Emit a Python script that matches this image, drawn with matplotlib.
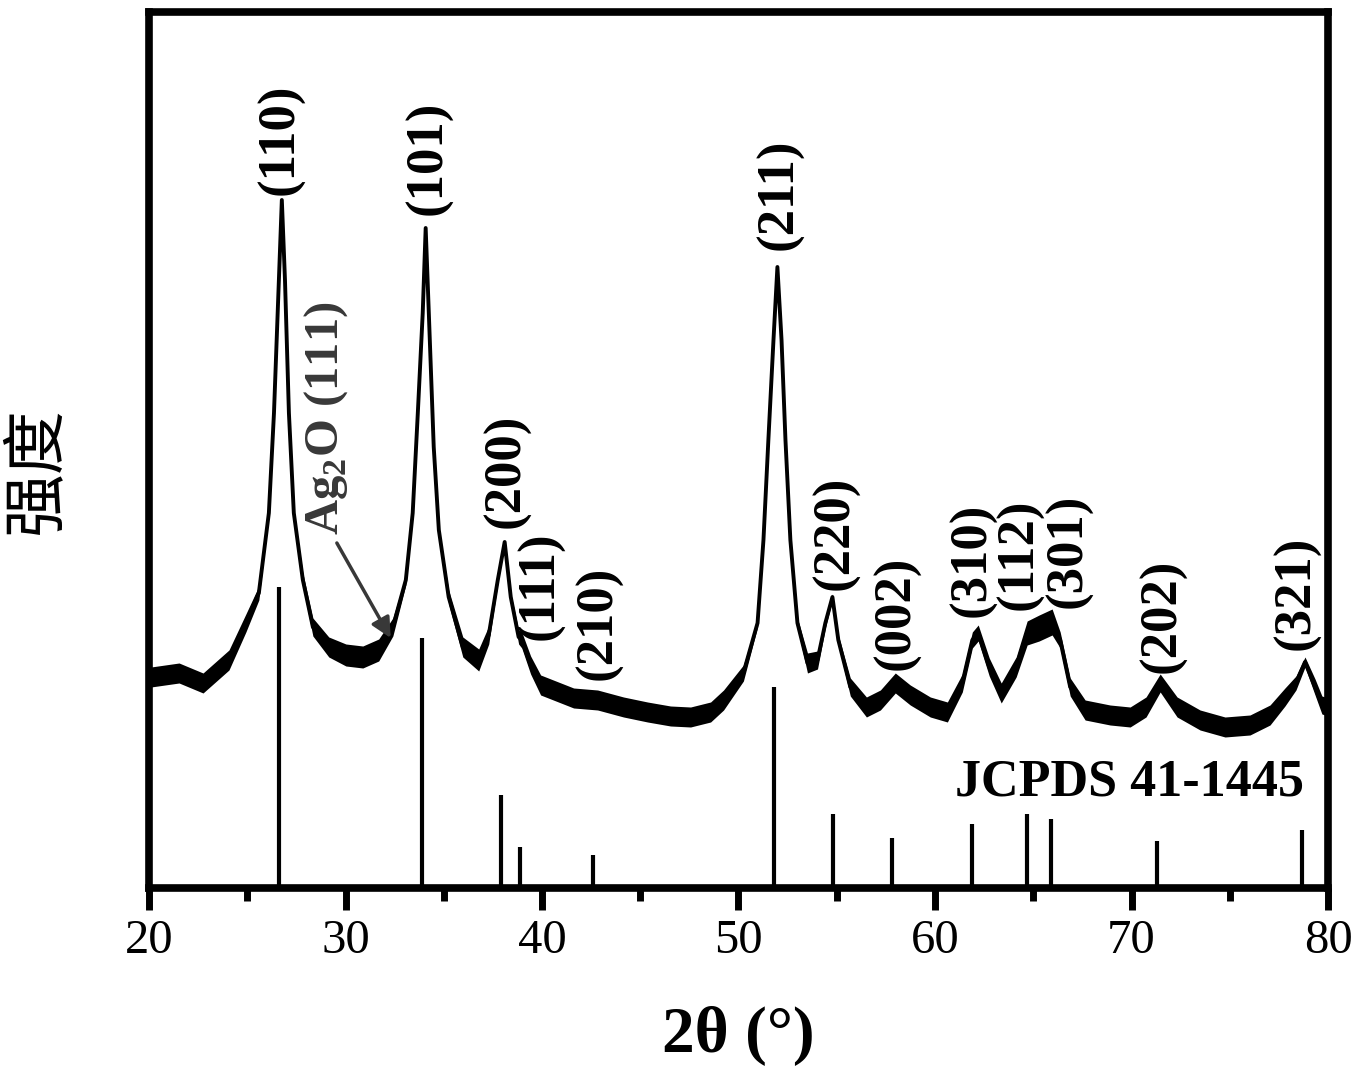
import numpy as np
import matplotlib
matplotlib.use("Agg")
import matplotlib.pyplot as plt

# measured XRD pattern: 2theta (deg) vs intensity (a.u.)
two_theta = [20.10, 21.53, 22.75, 24.07, 24.93, 25.59, 26.10, 26.36, 26.61, 26.76,
             26.92, 27.12, 27.37, 27.83, 28.34, 29.15, 30.02, 30.88, 31.69, 32.41,
             33.07, 33.42, 33.68, 33.93, 34.08, 34.24, 34.49, 34.75, 35.25, 35.97,
             36.78, 37.29, 37.75, 38.10, 38.41, 38.81, 38.97, 39.42, 39.93, 41.61,
             42.83, 44.15, 45.37, 46.54, 47.56, 48.58, 49.24, 50.25, 50.97, 51.27,
             51.52, 51.78, 51.98, 52.19, 52.39, 52.64, 53.00, 53.51, 54.02, 54.42,
             54.78, 55.08, 55.69, 56.51, 57.22, 57.98, 58.74, 59.76, 60.63, 61.39,
             61.90, 62.20, 62.76, 63.37, 64.13, 64.69, 65.30, 65.96, 66.37, 66.88,
             67.64, 68.91, 69.93, 70.74, 71.46, 72.32, 73.49, 74.76, 76.03, 77.05,
             77.81, 78.37, 78.83, 79.34, 79.69, 80.00]
intensity = [208, 212, 202, 225, 262, 292, 372, 472, 605, 685,
             605, 472, 372, 305, 258, 238, 230, 228, 235, 258,
             305, 372, 472, 572, 657, 572, 438, 355, 288, 238,
             225, 250, 305, 343, 288, 248, 245, 220, 200, 187,
             185, 178, 173, 169, 168, 173, 185, 212, 262, 345,
             445, 545, 618, 545, 445, 345, 262, 222, 225, 262,
             288, 245, 198, 178, 185, 202, 190, 178, 173, 202,
             245, 252, 218, 192, 218, 252, 257, 263, 245, 198,
             175, 170, 168, 178, 202, 178, 165, 158, 160, 170,
             188, 202, 223, 198, 180, 178]
# half height of the noise band around the trace
noise_band = [10, 10, 10, 10, 9, 7, 3, 2, 2, 1,
              2, 2, 3, 7, 9, 10, 11, 11, 11, 9,
              5, 3, 2, 2, 1, 2, 2, 3, 7, 10,
              11, 9, 4, 2, 4, 7, 8, 9, 10, 10,
              10, 10, 10, 10, 10, 10, 10, 8, 4, 3,
              2, 2, 1, 2, 2, 3, 5, 10, 9, 5,
              3, 5, 9, 10, 10, 10, 10, 10, 10, 9,
              8, 8, 9, 10, 10, 12, 13, 13, 8, 9,
              10, 10, 10, 10, 9, 10, 10, 10, 10, 10,
              9, 7, 5, 8, 9, 9]

# JCPDS 41-1445 reference lines
ref_pos = [26.6, 33.9, 37.9, 38.9, 42.6, 51.8, 54.8, 57.8, 61.9, 64.7, 65.9, 71.3, 78.7]
ref_height = [298, 247, 90, 38, 30, 198, 71, 47, 61, 71, 66, 44, 55]

# peak indices
hkl = ["(110)", "(101)", "(200)", "(111)", "(210)", "(211)", "(220)",
       "(002)", "(310)", "(112)", "(301)", "(202)", "(321)"]
hkl_x = [26.71, 34.24, 38.20, 39.93, 42.88, 52.08, 54.93,
         58.03, 61.92, 64.30, 66.80, 71.56, 78.42]
hkl_y = [690, 670, 357, 245, 205, 635, 295, 215, 268, 275, 277, 212, 235]


def main():
	plt.rcParams.update({'font.family': 'Liberation Serif',
	                     'mathtext.fontset': 'custom',
	                     'mathtext.rm': 'Liberation Serif'})

	fig = plt.figure(figsize=(13.57, 10.81), dpi=100)
	ax = fig.add_axes([149 / 1357, 1 - 888 / 1081, (1328 - 149) / 1357, (888 - 12) / 1081])

	x = np.array(two_theta)
	y = np.array(intensity)
	hw = np.array(noise_band)

	# pattern
	ax.fill_between(x, y - hw, y + hw, color='black', lw=0)
	ax.plot(x, y, color='black', lw=2.8)

	# reference sticks
	ax.vlines(ref_pos, 0, ref_height, color='black', lw=3)

	# peak labels
	for lab, lx, ly in zip(hkl, hkl_x, hkl_y):
		ax.text(lx, ly, lab, rotation=90, ha='center', va='bottom',
		        fontsize=38, fontweight='bold')

	ax.text(29.0, 350, r"Ag$_\mathregular{2}$O (111)", rotation=90, ha='center',
	        va='bottom', fontsize=35, fontweight='bold', color='#383838')
	ax.annotate("", xy=(32.30, 247), xytext=(29.56, 342),
	            arrowprops=dict(arrowstyle='-|>', color='#383838', lw=2.5,
	                            mutation_scale=30, shrinkA=0, shrinkB=0))

	ax.text(78.8, 90, "JCPDS 41-1445", ha='right', va='baseline',
	        fontsize=37.5, fontweight='bold')

	# Format
	ax.set_xlim(20, 80)
	ax.set_ylim(-3, 873)
	ax.set_yticks([])
	ax.set_xticks(range(20, 81, 10))
	ax.set_xticks(range(25, 80, 10), minor=True)
	ax.tick_params(axis='x', which='major', direction='out', length=16, width=5,
	               labelsize=35, pad=6)
	ax.tick_params(axis='x', which='minor', direction='out', length=9, width=5)
	for s in ax.spines.values():
		s.set_linewidth(5.5)

	ax.set_xlabel("2θ (°)", fontsize=47, fontweight='bold', va='top')
	ax.xaxis.set_label_coords(0.5, -0.135)
	ax.set_ylabel("强度", fontsize=46, family=['Noto Sans CJK SC', 'DejaVu Sans'])
	ax.yaxis.set_label_coords(-0.067, 0.477)

	fig.savefig("out.png", dpi=100)


if __name__ == '__main__':
	main()
